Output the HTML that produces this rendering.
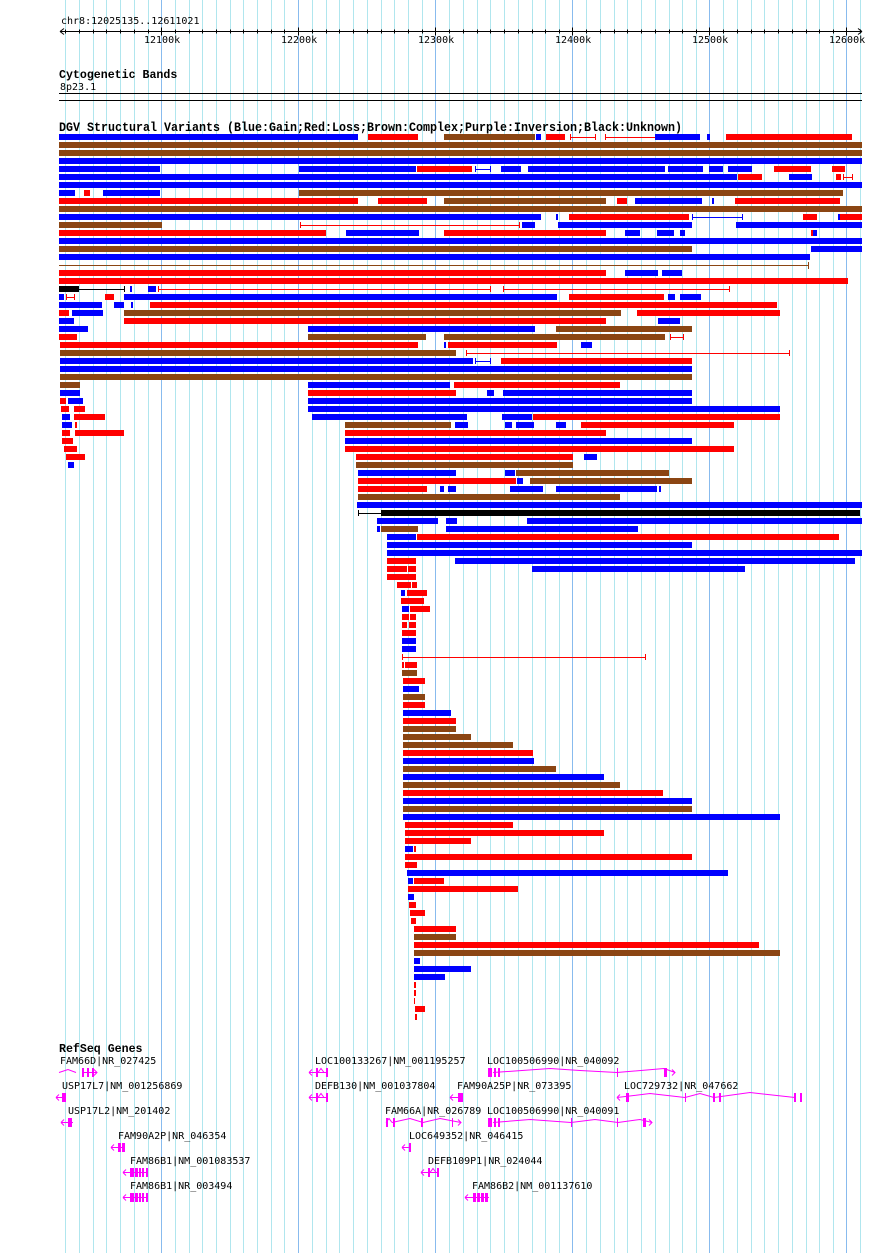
<!DOCTYPE html>
<html><head><meta charset="utf-8"><style>
html,body{margin:0;padding:0;background:#fff;}
svg{display:block}
.b{fill:#0000ff}.r{fill:#ff0000}.n{fill:#8b4513}.k{fill:#000}
.lb{stroke:#0000ff;fill:none}.lr{stroke:#ff0000;fill:none}.ln{stroke:#8b4513;fill:none}.lk{stroke:#000;fill:none}
text{font-family:"DejaVu Sans Mono","Liberation Mono",monospace;font-size:10px;fill:#000}
.t{font-family:"Liberation Mono",monospace;font-weight:bold;font-size:12.5px}
.g{fill:#ff00ff}.gl{stroke:#ff00ff;fill:none}
</style></head><body>
<svg width="890" height="1253" viewBox="0 0 890 1253" xmlns="http://www.w3.org/2000/svg">
<g id="grid" stroke-width="1">
<path stroke="#b0e6ee" d="M65.5 0V1253M79.5 0V1253M93.5 0V1253M106.5 0V1253M120.5 0V1253M134.5 0V1253M148.5 0V1253M202.5 0V1253M216.5 0V1253M230.5 0V1253M243.5 0V1253M257.5 0V1253M271.5 0V1253M284.5 0V1253M175.5 0V1253M189.5 0V1253M312.5 0V1253M326.5 0V1253M339.5 0V1253M353.5 0V1253M367.5 0V1253M381.5 0V1253M394.5 0V1253M408.5 0V1253M422.5 0V1253M449.5 0V1253M463.5 0V1253M477.5 0V1253M490.5 0V1253M504.5 0V1253M518.5 0V1253M532.5 0V1253M545.5 0V1253M559.5 0V1253M586.5 0V1253M600.5 0V1253M614.5 0V1253M627.5 0V1253M641.5 0V1253M655.5 0V1253M669.5 0V1253M682.5 0V1253M696.5 0V1253M723.5 0V1253M737.5 0V1253M751.5 0V1253M764.5 0V1253M778.5 0V1253M792.5 0V1253M806.5 0V1253M819.5 0V1253M833.5 0V1253M860.5 0V1253"/>
<path stroke="#88bbee" d="M161.5 0V1253M298.5 0V1253M435.5 0V1253M572.5 0V1253M709.5 0V1253M846.5 0V1253"/>
</g>
<text x="61" y="24">chr8:12025135..12611021</text>
<path stroke="#000" d="M60 31.5H862M60 31.5l4-3M60 31.5l4 3M862 31.5l-4-3M862 31.5l-4 3"/>
<path stroke="#000" d="M65.5 29.5v4M79.5 29.5v4M93.5 29.5v4M106.5 29.5v4M120.5 29.5v4M134.5 29.5v4M148.5 29.5v4M175.5 29.5v4M189.5 29.5v4M202.5 29.5v4M216.5 29.5v4M230.5 29.5v4M243.5 29.5v4M257.5 29.5v4M271.5 29.5v4M284.5 29.5v4M312.5 29.5v4M326.5 29.5v4M339.5 29.5v4M353.5 29.5v4M367.5 29.5v4M381.5 29.5v4M394.5 29.5v4M408.5 29.5v4M422.5 29.5v4M449.5 29.5v4M463.5 29.5v4M477.5 29.5v4M490.5 29.5v4M504.5 29.5v4M518.5 29.5v4M532.5 29.5v4M545.5 29.5v4M559.5 29.5v4M586.5 29.5v4M600.5 29.5v4M614.5 29.5v4M627.5 29.5v4M641.5 29.5v4M655.5 29.5v4M669.5 29.5v4M682.5 29.5v4M696.5 29.5v4M723.5 29.5v4M737.5 29.5v4M751.5 29.5v4M764.5 29.5v4M778.5 29.5v4M792.5 29.5v4M806.5 29.5v4M819.5 29.5v4M833.5 29.5v4M860.5 29.5v4M161.5 27.5v8M298.5 27.5v8M435.5 27.5v8M572.5 27.5v8M709.5 27.5v8M846.5 27.5v8"/>
<text x="144" y="43">12100k</text><text x="281" y="43">12200k</text><text x="418" y="43">12300k</text><text x="555" y="43">12400k</text><text x="692" y="43">12500k</text><text x="829" y="43">12600k</text>
<text x="59" y="78" class="t" style="font-size:11.6px">Cytogenetic Bands</text>
<text x="60" y="90">8p23.1</text>
<rect x="59" y="93" width="803" height="1" fill="#000"/>
<rect x="59" y="100" width="803" height="1" fill="#000"/>
<text x="59" y="131" class="t" style="font-size:13px;textLength:623" textLength="623" lengthAdjust="spacingAndGlyphs">DGV Structural Variants (Blue:Gain;Red:Loss;Brown:Complex;Purple:Inversion;Black:Unknown)</text>

<g transform="translate(0,134)"><rect class="b" x="59" y="0" width="299" height="6"/><rect class="r" x="368" width="50" height="6"/><rect class="n" x="444" width="91" height="6"/><rect class="b" x="536" width="5" height="6"/><rect class="r" x="546" width="19" height="6"/><path class="lr" d="M570 3.5H595M570.5 0v6M595.5 0v6M605 3.5H655M605.5 0v6"/><rect class="b" x="655" width="45" height="6"/><rect class="b" x="707" width="3" height="6"/><rect class="r" x="726" width="126" height="6"/></g>
<rect class="n" x="59" y="142" width="803" height="6"/>
<rect class="n" x="59" y="150" width="803" height="6"/>
<rect class="b" x="59" y="158" width="803" height="6"/>
<g transform="translate(0,166)"><rect class="b" x="59" width="101" height="6"/><rect class="b" x="299" width="117" height="6"/><rect class="r" x="417" width="55" height="6"/><path class="lb" d="M475 3.5H490M475.5 0v6M490.5 0v6"/><rect class="b" x="501" width="20" height="6"/><rect class="b" x="528" width="137" height="6"/><rect class="b" x="668" width="35" height="6"/><rect class="b" x="709" width="14" height="6"/><rect class="b" x="728" width="24" height="6"/><rect class="r" x="774" width="37" height="6"/><rect class="r" x="832" width="13" height="6"/></g>
<g transform="translate(0,174)"><rect class="b" x="59" width="678" height="6"/><rect class="r" x="738" width="24" height="6"/><rect class="b" x="789" width="23" height="6"/><rect class="r" x="836" width="5" height="6"/><path class="lr" d="M843 3.5H852M843.5 0v6M852.5 0v6"/></g>
<rect class="b" x="59" y="182" width="803" height="6"/>
<g transform="translate(0,190)"><rect class="b" x="59" width="16" height="6"/><rect class="r" x="84" width="6" height="6"/><rect class="b" x="103" width="57" height="6"/><rect class="n" x="299" width="544" height="6"/></g>
<g transform="translate(0,198)"><rect class="r" x="59" width="299" height="6"/><rect class="r" x="378" width="49" height="6"/><rect class="n" x="444" width="162" height="6"/><rect class="r" x="617" width="10" height="6"/><rect class="b" x="635" width="67" height="6"/><rect class="b" x="712" width="2" height="6"/><rect class="r" x="735" width="105" height="6"/></g>
<rect class="n" x="59" y="206" width="803" height="6"/>
<g transform="translate(0,214)"><rect class="b" x="59" width="482" height="6"/><rect class="b" x="556" width="2" height="6"/><rect class="r" x="569" width="120" height="6"/><path class="lb" d="M692 3.5H742M692.5 0v6M742.5 0v6"/><rect class="r" x="803" width="14" height="6"/><rect class="b" x="838" width="2" height="6"/><rect class="r" x="840" width="22" height="6"/></g>
<g transform="translate(0,222)"><rect class="n" x="59" width="103" height="6"/><path class="lr" d="M300 3.5H519M300.5 0v6M519.5 0v6"/><rect class="b" x="522" width="13" height="6"/><rect class="b" x="558" width="134" height="6"/><rect class="b" x="736" width="126" height="6"/></g>
<g transform="translate(0,230)"><rect class="r" x="59" width="267" height="6"/><rect class="b" x="346" width="73" height="6"/><rect class="r" x="444" width="162" height="6"/><rect class="b" x="625" width="15" height="6"/><rect class="b" x="657" width="17" height="6"/><rect class="b" x="680" width="5" height="6"/><rect class="r" x="811" width="2" height="6"/><rect class="b" x="813" width="4" height="6"/></g>
<rect class="b" x="59" y="238" width="803" height="6"/>
<g transform="translate(0,246)"><rect class="n" x="59" width="633" height="6"/><rect class="b" x="811" width="51" height="6"/></g>
<rect class="b" x="59" y="254" width="751" height="6"/>
<path class="ln" d="M59 265.5H808M808.5 262v7"/>
<g transform="translate(0,270)"><rect class="r" x="59" width="547" height="6"/><rect class="b" x="625" width="33" height="6"/><rect class="b" x="662" width="20" height="6"/></g>
<rect class="r" x="59" y="278" width="789" height="6"/>
<g transform="translate(0,286)"><rect class="k" x="59" width="20" height="6"/><path class="lk" d="M79 3.5H124M124.5 0v6"/><rect class="b" x="130" width="2" height="6"/><rect class="b" x="148" width="8" height="6"/><path class="lr" d="M158 3.5H490M158.5 0v6M490.5 0v6M503 3.5H729M503.5 0v6M729.5 0v6"/></g>
<g transform="translate(0,294)"><rect class="b" x="59" width="5" height="6"/><path class="lr" d="M66 3.5H74M66.5 0v6M74.5 0v6"/><rect class="r" x="105" width="9" height="6"/><rect class="b" x="124" width="433" height="6"/><rect class="r" x="569" width="95" height="6"/><rect class="b" x="668" width="7" height="6"/><rect class="b" x="680" width="21" height="6"/></g>
<g transform="translate(0,302)"><rect class="b" x="59" width="43" height="6"/><rect class="b" x="114" width="10" height="6"/><rect class="b" x="131" width="2" height="6"/><rect class="r" x="150" width="627" height="6"/></g>
<g transform="translate(0,310)"><rect class="r" x="59" width="10" height="6"/><rect class="b" x="72" width="31" height="6"/><rect class="n" x="124" width="497" height="6"/><rect class="r" x="637" width="143" height="6"/></g>
<g transform="translate(0,318)"><rect class="b" x="59" width="15" height="6"/><rect class="r" x="124" width="482" height="6"/><rect class="b" x="658" width="22" height="6"/></g>
<g transform="translate(0,326)"><rect class="b" x="59" width="29" height="6"/><rect class="b" x="308" width="227" height="6"/><rect class="n" x="556" width="136" height="6"/></g>
<g transform="translate(0,334)"><rect class="r" x="59" width="18" height="6"/><rect class="n" x="308" width="118" height="6"/><rect class="n" x="444" width="221" height="6"/><path class="lr" d="M670 3.5H683M670.5 0v6M683.5 0v6"/></g>
<g transform="translate(0,342)"><rect class="r" x="60" width="358" height="6"/><rect class="b" x="444" width="2" height="6"/><rect class="r" x="448" width="109" height="6"/><rect class="b" x="581" width="11" height="6"/></g>
<g transform="translate(0,350)"><rect class="n" x="60" width="396" height="6"/><path class="lr" d="M466 3.5H789M466.5 0v6M789.5 0v6"/></g>
<g transform="translate(0,358)"><rect class="b" x="60" width="413" height="6"/><path class="lb" d="M475 3.5H490M475.5 0v6M490.5 0v6"/><rect class="r" x="501" width="191" height="6"/></g>
<rect class="b" x="60" y="366" width="632" height="6"/>
<rect class="n" x="60" y="374" width="632" height="6"/>
<g transform="translate(0,382)"><rect class="n" x="60" width="20" height="6"/><rect class="b" x="308" width="142" height="6"/><rect class="r" x="454" width="166" height="6"/></g>
<g transform="translate(0,390)"><rect class="b" x="60" width="20" height="6"/><rect class="r" x="308" width="148" height="6"/><rect class="b" x="487" width="7" height="6"/><rect class="b" x="503" width="189" height="6"/></g>
<g transform="translate(0,398)"><rect class="r" x="60" width="6" height="6"/><rect class="b" x="68" width="15" height="6"/><rect class="b" x="308" width="384" height="6"/></g>
<g transform="translate(0,406)"><rect class="r" x="61" width="8" height="6"/><rect class="r" x="74" width="11" height="6"/><rect class="b" x="308" width="472" height="6"/></g>
<g transform="translate(0,414)"><rect class="b" x="62" width="8" height="6"/><rect class="r" x="74" width="31" height="6"/><rect class="b" x="312" width="155" height="6"/><rect class="b" x="502" width="30" height="6"/><rect class="r" x="533" width="247" height="6"/></g>
<g transform="translate(0,422)"><rect class="b" x="62" width="10" height="6"/><rect class="r" x="75" width="2" height="6"/><rect class="n" x="345" width="106" height="6"/><rect class="b" x="455" width="13" height="6"/><rect class="b" x="505" width="7" height="6"/><rect class="b" x="516" width="18" height="6"/><rect class="b" x="556" width="10" height="6"/><rect class="r" x="581" width="153" height="6"/></g>
<g transform="translate(0,430)"><rect class="r" x="62" width="8" height="6"/><rect class="r" x="75" width="49" height="6"/><rect class="r" x="345" width="261" height="6"/></g>
<g transform="translate(0,438)"><rect class="r" x="62" width="11" height="6"/><rect class="b" x="345" width="347" height="6"/></g>
<g transform="translate(0,446)"><rect class="r" x="64" width="13" height="6"/><rect class="r" x="345" width="389" height="6"/></g>
<g transform="translate(0,454)"><rect class="r" x="66" width="19" height="6"/><rect class="r" x="356" width="217" height="6"/><rect class="b" x="584" width="13" height="6"/></g>
<g transform="translate(0,462)"><rect class="b" x="68" width="6" height="6"/><rect class="n" x="356" width="217" height="6"/></g>
<g transform="translate(0,470)"><rect class="b" x="358" width="98" height="6"/><rect class="b" x="505" width="10" height="6"/><rect class="n" x="516" width="153" height="6"/></g>
<g transform="translate(0,478)"><rect class="r" x="358" width="158" height="6"/><rect class="b" x="517" width="6" height="6"/><rect class="n" x="530" width="162" height="6"/></g>
<g transform="translate(0,486)"><rect class="r" x="358" width="69" height="6"/><rect class="b" x="440" width="4" height="6"/><rect class="b" x="448" width="8" height="6"/><rect class="b" x="510" width="33" height="6"/><rect class="b" x="556" width="101" height="6"/><rect class="b" x="659" width="2" height="6"/></g>
<rect class="n" x="358" y="494" width="262" height="6"/>
<rect class="b" x="357" y="502" width="505" height="6"/>
<g transform="translate(0,510)"><path class="lk" d="M358 3.5H381M358.5 0v6M859.5 0v6"/><rect class="k" x="381" width="478" height="6"/></g>
<g transform="translate(0,518)"><rect class="b" x="377" width="61" height="6"/><rect class="b" x="446" width="11" height="6"/><rect class="b" x="527" width="335" height="6"/></g>
<g transform="translate(0,526)"><rect class="b" x="377" width="3" height="6"/><rect class="n" x="381" width="37" height="6"/><rect class="b" x="446" width="192" height="6"/></g>
<g transform="translate(0,534)"><rect class="b" x="387" width="29" height="6"/><rect class="r" x="417" width="422" height="6"/></g>
<rect class="b" x="387" y="542" width="305" height="6"/>
<rect class="b" x="387" y="550" width="475" height="6"/>
<g transform="translate(0,558)"><rect class="r" x="387" width="29" height="6"/><rect class="b" x="455" width="400" height="6"/></g>
<g transform="translate(0,566)"><rect class="r" x="387" width="20" height="6"/><rect class="r" x="408" width="8" height="6"/><rect class="b" x="532" width="213" height="6"/></g>
<rect class="r" x="387" y="574" width="29" height="6"/>
<rect class="r" x="397" y="582" width="14" height="6"/><rect class="r" x="412" y="582" width="5" height="6"/>
<rect class="b" x="401" y="590" width="4" height="6"/><rect class="r" x="407" y="590" width="20" height="6"/>
<rect class="r" x="401" y="598" width="23" height="6"/>
<rect class="b" x="402" y="606" width="7" height="6"/><rect class="r" x="410" y="606" width="20" height="6"/>
<rect class="r" x="402" y="614" width="7" height="6"/><rect class="r" x="410" y="614" width="6" height="6"/>
<rect class="r" x="402" y="622" width="5" height="6"/><rect class="r" x="409" y="622" width="7" height="6"/>
<rect class="r" x="402" y="630" width="14" height="6"/>
<rect class="b" x="402" y="638" width="14" height="6"/>
<rect class="b" x="402" y="646" width="14" height="6"/>
<path class="lr" d="M402 657.5H645M402.5 654v6M645.5 654v6"/>
<rect class="r" x="402" y="662" width="2" height="6"/><rect class="r" x="405" y="662" width="12" height="6"/>
<rect class="n" x="402" y="670" width="15" height="6"/>
<rect class="r" x="403" y="678" width="22" height="6"/>
<rect class="b" x="403" y="686" width="16" height="6"/>
<rect class="n" x="403" y="694" width="22" height="6"/>
<rect class="r" x="403" y="702" width="22" height="6"/>
<rect class="b" x="403" y="710" width="48" height="6"/>
<rect class="r" x="403" y="718" width="53" height="6"/>
<rect class="n" x="403" y="726" width="53" height="6"/>
<rect class="n" x="403" y="734" width="68" height="6"/>
<rect class="n" x="403" y="742" width="110" height="6"/>
<rect class="r" x="403" y="750" width="130" height="6"/>
<rect class="b" x="403" y="758" width="131" height="6"/>
<rect class="n" x="403" y="766" width="153" height="6"/>
<rect class="b" x="403" y="774" width="201" height="6"/>
<rect class="n" x="403" y="782" width="217" height="6"/>
<rect class="r" x="403" y="790" width="260" height="6"/>
<rect class="b" x="403" y="798" width="289" height="6"/>
<rect class="n" x="403" y="806" width="289" height="6"/>
<rect class="b" x="403" y="814" width="377" height="6"/>
<rect class="r" x="405" y="822" width="108" height="6"/>
<rect class="r" x="405" y="830" width="199" height="6"/>
<rect class="r" x="405" y="838" width="66" height="6"/>
<rect class="b" x="405" y="846" width="8" height="6"/><rect class="r" x="414" y="846" width="2" height="6"/>
<rect class="r" x="405" y="854" width="287" height="6"/>
<rect class="r" x="405" y="862" width="12" height="6"/>
<rect class="b" x="407" y="870" width="321" height="6"/>
<rect class="b" x="408" y="878" width="5" height="6"/><rect class="r" x="414" y="878" width="30" height="6"/>
<rect class="r" x="408" y="886" width="110" height="6"/>
<rect class="b" x="408" y="894" width="6" height="6"/>
<rect class="r" x="409" y="902" width="7" height="6"/>
<rect class="r" x="410" y="910" width="15" height="6"/>
<rect class="r" x="411" y="918" width="5" height="6"/>
<rect class="r" x="414" y="926" width="42" height="6"/>
<rect class="n" x="414" y="934" width="42" height="6"/>
<rect class="r" x="414" y="942" width="345" height="6"/>
<rect class="n" x="414" y="950" width="366" height="6"/>
<rect class="b" x="414" y="958" width="6" height="6"/>
<rect class="b" x="414" y="966" width="57" height="6"/>
<rect class="b" x="414" y="974" width="31" height="6"/>
<rect class="r" x="414" y="982" width="2" height="6"/>
<rect class="r" x="414" y="990" width="2" height="6"/>
<rect class="r" x="414" y="998" width="1" height="6"/>
<rect class="r" x="415" y="1006" width="10" height="6"/>
<rect class="r" x="415" y="1014" width="2" height="6"/>

<text x="59" y="1052" class="t" style="font-size:11.6px">RefSeq Genes</text>
<text x="60" y="1064">FAM66D|NR_027425</text>
<text x="315" y="1064">LOC100133267|NM_001195257</text>
<text x="487" y="1064">LOC100506990|NR_040092</text>
<text x="62" y="1089">USP17L7|NM_001256869</text>
<text x="315" y="1089">DEFB130|NM_001037804</text>
<text x="457" y="1089">FAM90A25P|NR_073395</text>
<text x="624" y="1089">LOC729732|NR_047662</text>
<text x="68" y="1114">USP17L2|NM_201402</text>
<text x="385" y="1114">FAM66A|NR_026789</text>
<text x="487" y="1114">LOC100506990|NR_040091</text>
<text x="118" y="1139">FAM90A2P|NR_046354</text>
<text x="409" y="1139">LOC649352|NR_046415</text>
<text x="130" y="1164">FAM86B1|NM_001083537</text>
<text x="428" y="1164">DEFB109P1|NR_024044</text>
<text x="130" y="1189">FAM86B1|NR_003494</text>
<text x="472" y="1189">FAM86B2|NM_001137610</text>

<g class="gl" stroke-width="1">
<path d="M59 1072.5L68 1069.5L76 1072.5M82 1072.5H97M94 1069.5l3 3l-3 3"/>
<path d="M309 1072.5H327M309 1072.5l3-3M309 1072.5l3 3M318 1072.5l3-4l3 4"/>
<path d="M493 1072.5L550 1068.5L580 1070.5L617 1072.5L664 1068.5L675 1072.5M672 1069.5l3 3l-3 3"/>
<path d="M56 1097.5H66M56 1097.5l3-3M56 1097.5l3 3"/>
<path d="M309 1097.5H327M309 1097.5l3-3M309 1097.5l3 3M318 1097.5l3-4l3 4"/>
<path d="M450 1097.5H463M450 1097.5l3-3M450 1097.5l3 3"/>
<path d="M617 1097.5L650 1093.5L685 1097.5L700 1093.5L714 1097.5L750 1092.5L795 1097.5M617 1097.5l3-3M617 1097.5l3 3"/>
<path d="M61 1122.5H73M61 1122.5l3-3M61 1122.5l3 3"/>
<path d="M392 1122.5L410 1118.5L423 1122.5L440 1118.5L461 1122.5M458 1119.5l3 3l-3 3M386 1122.5l3-4l3 4"/>
<path d="M493 1122.5L530 1119.5L571 1122.5L595 1119.5L618 1122.5L640 1119.5L652 1122.5M649 1119.5l3 3l-3 3"/>
<path d="M111 1147.5H125M111 1147.5l3-3M111 1147.5l3 3"/>
<path d="M402 1147.5H411M402 1147.5l3-3M402 1147.5l3 3"/>
<path d="M123 1172.5H148M123 1172.5l3-3M123 1172.5l3 3"/>
<path d="M421 1172.5H439M421 1172.5l3-3M421 1172.5l3 3M430 1172.5l3-4l3 4"/>
<path d="M123 1197.5H148M123 1197.5l3-3M123 1197.5l3 3"/>
<path d="M465 1197.5H489M465 1197.5l3-3M465 1197.5l3 3"/>
</g>
<g class="g">
<rect x="82" y="1068" width="2" height="9"/><rect x="87" y="1068" width="2" height="9"/><rect x="92" y="1068" width="2" height="9"/>
<rect x="316" y="1068" width="2" height="9"/><rect x="326" y="1068" width="2" height="9"/>
<rect x="488" y="1068" width="4" height="9"/><rect x="494" y="1068" width="2" height="9"/><rect x="498" y="1068" width="2" height="9"/><rect x="617" y="1068" width="1" height="9"/><rect x="664" y="1068" width="3" height="9"/>
<rect x="62" y="1093" width="4" height="9"/>
<rect x="316" y="1093" width="2" height="9"/><rect x="326" y="1093" width="2" height="9"/>
<rect x="458" y="1093" width="5" height="9"/>
<rect x="626" y="1093" width="3" height="9"/><rect x="685" y="1093" width="1" height="9"/><rect x="713" y="1093" width="2" height="9"/><rect x="719" y="1093" width="2" height="9"/><rect x="794" y="1093" width="2" height="9"/><rect x="800" y="1093" width="2" height="9"/>
<rect x="68" y="1118" width="4" height="9"/>
<rect x="386" y="1118" width="2" height="9"/><rect x="393" y="1118" width="2" height="9"/><rect x="421" y="1118" width="2" height="9"/><rect x="452" y="1118" width="1" height="9"/>
<rect x="488" y="1118" width="4" height="9"/><rect x="494" y="1118" width="2" height="9"/><rect x="498" y="1118" width="2" height="9"/><rect x="571" y="1118" width="1" height="9"/><rect x="617" y="1118" width="1" height="9"/><rect x="643" y="1118" width="3" height="9"/>
<rect x="118" y="1143" width="3" height="9"/><rect x="122" y="1143" width="3" height="9"/>
<rect x="409" y="1143" width="2" height="9"/>
<rect x="428" y="1168" width="2" height="9"/><rect x="437" y="1168" width="2" height="9"/>
<rect x="130" y="1168" width="4" height="9"/><rect x="135" y="1168" width="3" height="9"/><rect x="139" y="1168" width="2" height="9"/><rect x="142" y="1168" width="2" height="9"/><rect x="146" y="1168" width="2" height="9"/>
<rect x="130" y="1193" width="4" height="9"/><rect x="135" y="1193" width="3" height="9"/><rect x="139" y="1193" width="2" height="9"/><rect x="142" y="1193" width="2" height="9"/><rect x="146" y="1193" width="2" height="9"/>
<rect x="473" y="1193" width="3" height="9"/><rect x="477" y="1193" width="3" height="9"/><rect x="481" y="1193" width="3" height="9"/><rect x="485" y="1193" width="3" height="9"/>
</g>
</svg>
</body></html>
